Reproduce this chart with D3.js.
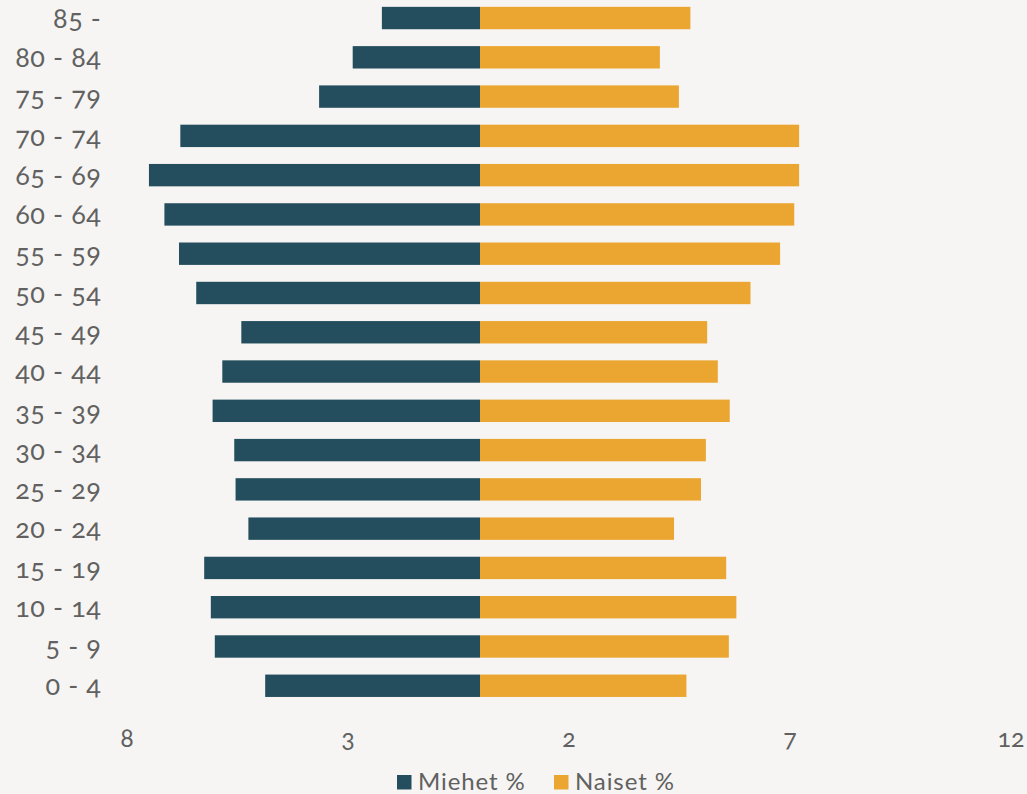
<!DOCTYPE html>
<html>
<head>
<meta charset="utf-8">
<script src="https://cdn.jsdelivr.net/npm/d3@7"></script>
<style>
  html, body { margin: 0; padding: 0; background: #f6f5f3; }
  svg { display: block; }
  text { font-family: Lato, "Open Sans", sans-serif; font-weight: 400; fill: #616161; font-feature-settings: "onum"; }
</style>
</head>
<body>
<div id="chart"></div>
<script>
// age groups, top of the pyramid first
var groups = ["85 -", "80 - 84", "75 - 79", "70 - 74", "65 - 69", "60 - 64", "55 - 59", "50 - 54",
              "45 - 49", "40 - 44", "35 - 39", "30 - 34", "25 - 29", "20 - 24", "15 - 19",
              "10 - 14", "5 - 9", "0 - 4"];
// Miehet % (drawn to the left)
var men = [2.22, 2.88, 3.64, 6.78, 7.49, 7.14, 6.81, 6.42, 5.40, 5.83, 6.05, 5.56, 5.53, 5.24,
           6.24, 6.09, 6.00, 4.86];
// Naiset % (drawn to the right)
var women = [4.76, 4.07, 4.50, 7.22, 7.22, 7.11, 6.79, 6.12, 5.14, 5.38, 5.65, 5.11, 5.00, 4.39,
             5.57, 5.80, 5.63, 4.67];
var tickValues = [-8, -3, 2, 7, 12];
var seriesNames = ["Miehet %", "Naiset %"];
var colors = ["#244e5d", "#eba631"];

var width = 1027, height = 794;

var svg = d3.select("#chart").append("svg")
    .attr("width", width)
    .attr("height", height);

var x = d3.scaleLinear()
    .domain([-8, 12])
    .range([126.4, 1010.4]);

var y = d3.scaleBand()
    .domain(groups)
    .range([-1.6, 705.4])
    .paddingInner(0.43)
    .paddingOuter(0.215);

// men bars, negative side
svg.append("g").selectAll("rect")
    .data(men)
    .join("rect")
    .attr("x", function(d) { return x(-d); })
    .attr("y", function(d, i) { return y(groups[i]); })
    .attr("width", function(d) { return x(0) - x(-d); })
    .attr("height", y.bandwidth())
    .attr("fill", colors[0]);

// women bars
svg.append("g").selectAll("rect")
    .data(women)
    .join("rect")
    .attr("x", x(0))
    .attr("y", function(d, i) { return y(groups[i]); })
    .attr("width", function(d) { return x(d) - x(0); })
    .attr("height", y.bandwidth())
    .attr("fill", colors[1]);

// category labels
svg.append("g").selectAll("text")
    .data(groups)
    .join("text")
    .attr("x", 101.5)
    .attr("y", function(d) { return y(d) + y.bandwidth() / 2 + 9.7; })
    .attr("text-anchor", "end")
    .style("font-size", "27px")
    .style("letter-spacing", "0.6px")
    .text(function(d) { return d; });

// x axis, absolute values
var xAxis = d3.axisBottom(x)
    .tickValues(tickValues)
    .tickSize(0)
    .tickFormat(function(d) { return Math.abs(d); });

var gx = svg.append("g")
    .attr("transform", "translate(0,720)")
    .call(xAxis);
gx.select(".domain").remove();
gx.selectAll("text")
    .attr("dy", null)
    .attr("y", 27)
    .style("font-size", "25px")
    .style("fill", "#616161")
    .style("font-family", "Lato, 'Open Sans', sans-serif");

// legend
var legend = svg.append("g");
var legendX = [397, 554];
seriesNames.forEach(function(name, i) {
  legend.append("rect")
      .attr("x", legendX[i])
      .attr("y", 775)
      .attr("width", 14.5)
      .attr("height", 14.5)
      .attr("fill", colors[i]);
  legend.append("text")
      .attr("x", legendX[i] + 21)
      .attr("y", 789.5)
      .style("font-size", "24px")
      .style("letter-spacing", "0.9px")
      .text(name);
});
</script>
</body>
</html>
